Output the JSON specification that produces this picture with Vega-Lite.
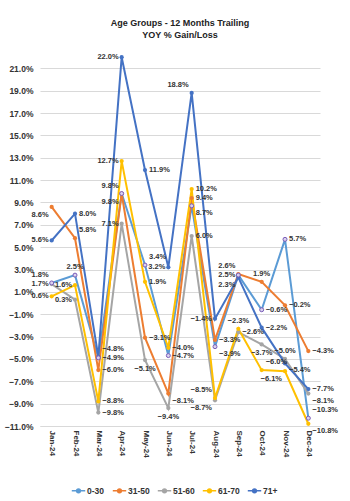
{
  "$schema": "https://vega.github.io/schema/vega-lite/v6.json",
  "width": 280,
  "height": 380,
  "autosize": {"type": "none"},
  "padding": {"left": 40, "top": 46, "right": 30, "bottom": 75},
  "background": "white",
  "config": {
    "view": {"stroke": null},
    "font": "Liberation Sans",
    "axis": {"labelFont": "Liberation Sans", "labelFontWeight": "bold", "labelColor": "#333333", "labelFontSize": 8.5},
    "legend": {"labelFont": "Liberation Sans", "labelFontWeight": "bold", "labelColor": "#333333", "labelFontSize": 8.5},
    "text": {"fontSize": 7.5, "fontWeight": "bold", "color": "#333333", "baseline": "middle", "font": "Liberation Sans"}
  },
  "title": {
    "text": ["Age Groups - 12 Months Trailing", "YOY % Gain/Loss"],
    "fontSize": 9,
    "fontWeight": "bold",
    "font": "Liberation Sans",
    "color": "#222222",
    "lineHeight": 12,
    "offset": 6,
    "anchor": "middle"
  },
  "data": {
    "values": [
      {"month": "Jan-24", "series": "0-30", "value": 0.018},
      {"month": "Feb-24", "series": "0-30", "value": 0.025},
      {"month": "Mar-24", "series": "0-30", "value": -0.049},
      {"month": "Apr-24", "series": "0-30", "value": 0.098},
      {"month": "May-24", "series": "0-30", "value": 0.034},
      {"month": "Jun-24", "series": "0-30", "value": -0.047},
      {"month": "Jul-24", "series": "0-30", "value": 0.087},
      {"month": "Aug-24", "series": "0-30", "value": -0.039},
      {"month": "Sep-24", "series": "0-30", "value": 0.025},
      {"month": "Oct-24", "series": "0-30", "value": -0.006},
      {"month": "Nov-24", "series": "0-30", "value": 0.057},
      {"month": "Dec-24", "series": "0-30", "value": -0.103},
      {"month": "Jan-24", "series": "31-50", "value": 0.086},
      {"month": "Feb-24", "series": "31-50", "value": 0.058},
      {"month": "Mar-24", "series": "31-50", "value": -0.060},
      {"month": "Apr-24", "series": "31-50", "value": 0.098},
      {"month": "May-24", "series": "31-50", "value": -0.031},
      {"month": "Jun-24", "series": "31-50", "value": -0.081},
      {"month": "Jul-24", "series": "31-50", "value": 0.094},
      {"month": "Aug-24", "series": "31-50", "value": -0.033},
      {"month": "Sep-24", "series": "31-50", "value": 0.026},
      {"month": "Oct-24", "series": "31-50", "value": 0.019},
      {"month": "Nov-24", "series": "31-50", "value": -0.002},
      {"month": "Dec-24", "series": "31-50", "value": -0.043},
      {"month": "Jan-24", "series": "51-60", "value": 0.017},
      {"month": "Feb-24", "series": "51-60", "value": 0.003},
      {"month": "Mar-24", "series": "51-60", "value": -0.098},
      {"month": "Apr-24", "series": "51-60", "value": 0.071},
      {"month": "May-24", "series": "51-60", "value": -0.051},
      {"month": "Jun-24", "series": "51-60", "value": -0.094},
      {"month": "Jul-24", "series": "51-60", "value": 0.060},
      {"month": "Aug-24", "series": "51-60", "value": -0.087},
      {"month": "Sep-24", "series": "51-60", "value": -0.026},
      {"month": "Oct-24", "series": "51-60", "value": -0.037},
      {"month": "Nov-24", "series": "51-60", "value": -0.050},
      {"month": "Dec-24", "series": "51-60", "value": -0.081},
      {"month": "Jan-24", "series": "61-70", "value": 0.006},
      {"month": "Feb-24", "series": "61-70", "value": 0.016},
      {"month": "Mar-24", "series": "61-70", "value": -0.088},
      {"month": "Apr-24", "series": "61-70", "value": 0.127},
      {"month": "May-24", "series": "61-70", "value": 0.019},
      {"month": "Jun-24", "series": "61-70", "value": -0.040},
      {"month": "Jul-24", "series": "61-70", "value": 0.102},
      {"month": "Aug-24", "series": "61-70", "value": -0.085},
      {"month": "Sep-24", "series": "61-70", "value": -0.023},
      {"month": "Oct-24", "series": "61-70", "value": -0.060},
      {"month": "Nov-24", "series": "61-70", "value": -0.061},
      {"month": "Dec-24", "series": "61-70", "value": -0.108},
      {"month": "Jan-24", "series": "71+", "value": 0.056},
      {"month": "Feb-24", "series": "71+", "value": 0.080},
      {"month": "Mar-24", "series": "71+", "value": -0.048},
      {"month": "Apr-24", "series": "71+", "value": 0.220},
      {"month": "May-24", "series": "71+", "value": 0.119},
      {"month": "Jun-24", "series": "71+", "value": 0.032},
      {"month": "Jul-24", "series": "71+", "value": 0.188},
      {"month": "Aug-24", "series": "71+", "value": -0.014},
      {"month": "Sep-24", "series": "71+", "value": 0.023},
      {"month": "Oct-24", "series": "71+", "value": -0.022},
      {"month": "Nov-24", "series": "71+", "value": -0.054},
      {"month": "Dec-24", "series": "71+", "value": -0.077}
    ]
  },
  "encoding": {
    "x": {
      "field": "month",
      "type": "ordinal",
      "sort": null,
      "scale": {"type": "point", "padding": 0.5},
      "axis": {"title": null, "labelAngle": 90, "ticks": false, "labelPadding": 4, "domainColor": "#D9D9D9", "grid": false, "labelFontSize": 8}
    },
    "y": {
      "field": "value",
      "type": "quantitative",
      "scale": {"domain": [-0.11, 0.23], "nice": false, "zero": false},
      "axis": {
        "title": null,
        "format": ".1%",
        "values": [-0.11, -0.09, -0.07, -0.05, -0.03, -0.01, 0.01, 0.03, 0.05, 0.07, 0.09, 0.11, 0.13, 0.15, 0.17, 0.19, 0.21],
        "domain": false,
        "ticks": false,
        "labelPadding": 7,
        "gridColor": "#D9D9D9",
        "gridWidth": 1
      }
    }
  },
  "layer": [
    {
      "mark": {"type": "line", "strokeWidth": 2},
      "encoding": {
        "color": {
          "field": "series",
          "type": "nominal",
          "scale": {"domain": ["0-30", "31-50", "51-60", "61-70", "71+"], "range": ["#5B9BD5", "#ED7D31", "#A5A5A5", "#FFC000", "#4472C4"]},
          "legend": {
            "title": null,
            "orient": "none",
            "direction": "horizontal",
            "legendX": 31,
            "legendY": 437,
            "symbolType": "M-1,0H1M0.28,0A0.28,0.28,0,1,1,-0.28,0A0.28,0.28,0,1,1,0.28,0",
            "symbolSize": 180,
            "symbolStrokeWidth": 1.5,
            "labelOffset": 1,
            "columnPadding": 4,
            "encode": {
              "symbols": {
                "update": {
                  "fill": {"scale": "color", "field": "value"},
                  "stroke": {"scale": "color", "field": "value"},
                  "strokeWidth": {"value": 1.5}
                }
              }
            }
          }
        }
      }
    },
    {
      "transform": [{"filter": "datum.series != '0-30'"}],
      "mark": {"type": "circle", "size": 18, "opacity": 1},
      "encoding": {
        "color": {"field": "series", "type": "nominal"}
      }
    },
    {
      "transform": [{"filter": "datum.series == '0-30'"}],
      "mark": {"type": "circle", "size": 16, "fill": "#D9D2EE", "stroke": "#7A5CB8", "strokeWidth": 1, "opacity": 1},
      "encoding": {}
    },
    {
      "transform": [{"filter": "indexof(['Feb-24|31-50','Mar-24|71+','May-24|0-30','Oct-24|61-70','Dec-24|0-30','Jul-24|0-30','Aug-24|0-30','Nov-24|71+','Dec-24|51-60','Dec-24|61-70','Jun-24|31-50','Jan-24|71+','Jan-24|51-60','Jan-24|61-70','Feb-24|61-70','Feb-24|51-60','Apr-24|71+','Apr-24|61-70','Apr-24|51-60','Jun-24|71+','Aug-24|71+','Aug-24|51-60','Sep-24|0-30','Jan-24|0-30','Apr-24|0-30','Jul-24|71+','Aug-24|61-70','Sep-24|31-50','Jan-24|31-50','Apr-24|31-50','Sep-24|71+','Nov-24|61-70','Feb-24|0-30','Sep-24|61-70','Oct-24|31-50','Nov-24|51-60','Jun-24|51-60','Oct-24|51-60','May-24|51-60'], datum.month + '|' + datum.series) < 0"}],
      "mark": {"type": "text", "align": "left", "dx": 4, "dy": 0},
      "encoding": {"text": {"field": "value", "type": "quantitative", "format": ".1%"}}
    },
    {
      "transform": [{"filter": "indexof(['Feb-24|31-50','Mar-24|71+','May-24|0-30','Oct-24|61-70','Dec-24|0-30'], datum.month + '|' + datum.series) >= 0"}],
      "mark": {"type": "text", "align": "left", "dx": 4, "dy": -8},
      "encoding": {"text": {"field": "value", "type": "quantitative", "format": ".1%"}}
    },
    {
      "transform": [{"filter": "indexof(['Jul-24|0-30','Aug-24|0-30','Nov-24|71+','Dec-24|51-60','Dec-24|61-70','Jun-24|31-50'], datum.month + '|' + datum.series) >= 0"}],
      "mark": {"type": "text", "align": "left", "dx": 4, "dy": 7},
      "encoding": {"text": {"field": "value", "type": "quantitative", "format": ".1%"}}
    },
    {
      "transform": [{"filter": "indexof(['Jan-24|71+','Jan-24|51-60','Jan-24|61-70','Feb-24|61-70','Feb-24|51-60','Apr-24|71+','Apr-24|61-70','Apr-24|51-60','Jun-24|71+','Aug-24|71+','Sep-24|0-30'], datum.month + '|' + datum.series) >= 0"}],
      "mark": {"type": "text", "align": "right", "dx": -3, "dy": 0},
      "encoding": {"text": {"field": "value", "type": "quantitative", "format": ".1%"}}
    },
    {
      "transform": [{"filter": "indexof(['Jan-24|0-30','Apr-24|0-30','Jul-24|71+','Aug-24|61-70','Sep-24|31-50'], datum.month + '|' + datum.series) >= 0"}],
      "mark": {"type": "text", "align": "right", "dx": -3, "dy": -8},
      "encoding": {"text": {"field": "value", "type": "quantitative", "format": ".1%"}}
    },
    {
      "transform": [{"filter": "indexof(['Jan-24|31-50','Apr-24|31-50','Sep-24|71+','Nov-24|61-70','Aug-24|51-60'], datum.month + '|' + datum.series) >= 0"}],
      "mark": {"type": "text", "align": "right", "dx": -3, "dy": 8},
      "encoding": {"text": {"field": "value", "type": "quantitative", "format": ".1%"}}
    },
    {
      "transform": [{"filter": "indexof(['Feb-24|0-30','Sep-24|61-70','Oct-24|31-50','Nov-24|51-60'], datum.month + '|' + datum.series) >= 0"}],
      "mark": {"type": "text", "align": "center", "dx": 0, "dy": -8},
      "encoding": {"text": {"field": "value", "type": "quantitative", "format": ".1%"}}
    },
    {
      "transform": [{"filter": "indexof(['Jun-24|51-60','Oct-24|51-60','May-24|51-60'], datum.month + '|' + datum.series) >= 0"}],
      "mark": {"type": "text", "align": "center", "dx": 0, "dy": 9},
      "encoding": {"text": {"field": "value", "type": "quantitative", "format": ".1%"}}
    }
  ]
}
